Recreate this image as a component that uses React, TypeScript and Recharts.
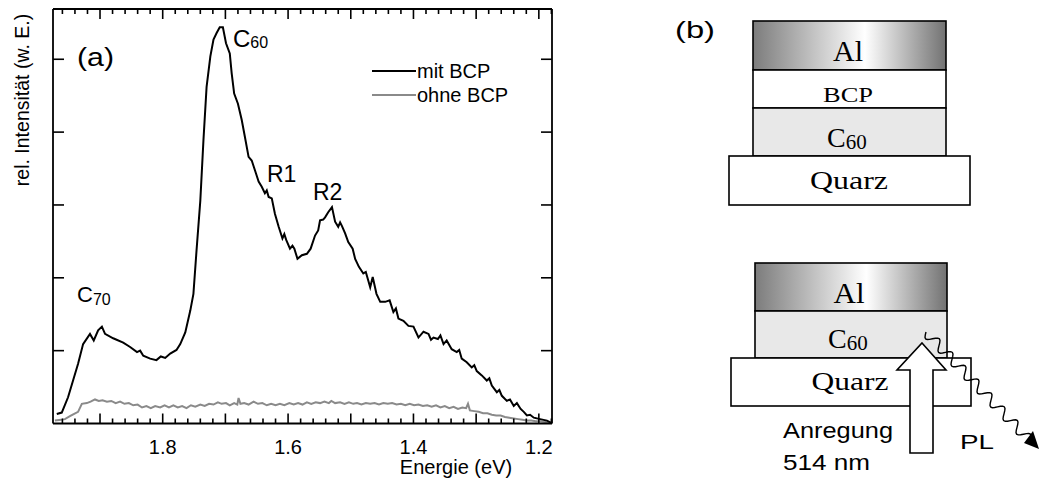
import { Line, LineChart, XAxis, YAxis } from "recharts"

// PL-Spektren, Energie in eV (x-Achse fallend)
const mitE = [
  1.969, 1.961, 1.951, 1.943, 1.935, 1.927, 1.916, 1.91, 1.903, 1.897, 1.892, 1.879, 1.863, 1.852, 1.841, 1.836,
  1.831, 1.82, 1.81, 1.803, 1.796, 1.788, 1.778, 1.772, 1.764, 1.756, 1.751, 1.746, 1.74, 1.735, 1.73, 1.724,
  1.719, 1.714, 1.709, 1.704, 1.699, 1.693, 1.69, 1.686, 1.68, 1.674, 1.669, 1.663, 1.658, 1.653, 1.647, 1.642,
  1.637, 1.634, 1.631, 1.626, 1.621, 1.615, 1.609, 1.606, 1.603, 1.597, 1.593, 1.59, 1.585, 1.578, 1.57, 1.564,
  1.557, 1.552, 1.549, 1.544, 1.541, 1.536, 1.53, 1.525, 1.52, 1.517, 1.514, 1.509, 1.504, 1.497, 1.493, 1.487,
  1.48, 1.476, 1.472, 1.469, 1.465, 1.459, 1.453, 1.445, 1.438, 1.432, 1.428, 1.424, 1.416, 1.408, 1.4, 1.392,
  1.384, 1.376, 1.372, 1.368, 1.361, 1.357, 1.352, 1.347, 1.339, 1.331, 1.327, 1.323, 1.315, 1.307, 1.303, 1.299,
  1.291, 1.283, 1.279, 1.275, 1.267, 1.263, 1.259, 1.251, 1.246, 1.24, 1.235, 1.229, 1.224, 1.219, 1.214, 1.208,
  1.198, 1.187, 1.18,
]
const mitI = [
  0.13, 0.15, 0.36, 0.59, 0.82, 1.09, 1.23, 1.14, 1.28, 1.33, 1.23, 1.17, 1.11, 1.05, 0.98, 1.0,
  0.93, 0.89, 0.87, 0.92, 0.9, 0.96, 1.01, 1.09, 1.25, 1.55, 1.78, 2.38, 3.06, 3.89, 4.62, 5.04,
  5.27, 5.36, 5.44, 5.44, 5.22, 5.08, 4.81, 4.53, 4.39, 4.17, 3.94, 3.66, 3.61, 3.48, 3.32, 3.25,
  3.16, 3.2, 3.11, 3.09, 2.88, 2.7, 2.54, 2.6, 2.52, 2.4, 2.44, 2.4, 2.26, 2.31, 2.33, 2.4,
  2.58, 2.65, 2.79, 2.8, 2.83, 2.9, 2.97, 2.77, 2.7, 2.76, 2.71, 2.61, 2.49, 2.4, 2.26, 2.15,
  2.06, 2.08, 1.96, 1.87, 2.01, 1.78, 1.67, 1.67, 1.69, 1.53, 1.58, 1.44, 1.41, 1.34, 1.33, 1.18,
  1.26, 1.23, 1.15, 1.18, 1.16, 1.21, 1.09, 1.14, 1.02, 0.98, 1.01, 0.89, 0.84, 0.77, 0.8, 0.72,
  0.66, 0.59, 0.62, 0.52, 0.43, 0.46, 0.38, 0.31, 0.33, 0.24, 0.28, 0.2, 0.16, 0.11, 0.12, 0.08,
  0.06, 0.04, 0.01,
]
const ohneE = [
  1.972, 1.962, 1.956, 1.948, 1.942, 1.935, 1.929, 1.921, 1.915, 1.908, 1.902, 1.896, 1.889, 1.882, 1.875, 1.868,
  1.861, 1.854, 1.847, 1.84, 1.833, 1.826, 1.819, 1.812, 1.804, 1.797, 1.79, 1.783, 1.776, 1.769, 1.762, 1.755,
  1.748, 1.74, 1.733, 1.726, 1.719, 1.712, 1.706, 1.699, 1.693, 1.686, 1.681, 1.679, 1.676, 1.67, 1.663, 1.655,
  1.648, 1.641, 1.634, 1.627, 1.62, 1.613, 1.606, 1.598, 1.591, 1.584, 1.577, 1.57, 1.563, 1.556, 1.549, 1.542,
  1.535, 1.531, 1.525, 1.517, 1.51, 1.503, 1.496, 1.49, 1.483, 1.476, 1.469, 1.462, 1.455, 1.448, 1.441, 1.434,
  1.427, 1.42, 1.413, 1.406, 1.399, 1.392, 1.385, 1.378, 1.371, 1.364, 1.357, 1.35, 1.343, 1.336, 1.329, 1.322,
  1.316, 1.313, 1.31, 1.303, 1.296, 1.289, 1.282, 1.275, 1.268, 1.261, 1.254, 1.247, 1.24, 1.233, 1.226, 1.219,
  1.212, 1.205, 1.198, 1.19, 1.182,
]
const ohneI = [
  0.04, 0.05, 0.06, 0.1, 0.13, 0.16, 0.27, 0.28, 0.3, 0.33, 0.31, 0.32, 0.3, 0.31, 0.28, 0.3,
  0.27, 0.28, 0.25, 0.26, 0.22, 0.24, 0.21, 0.24, 0.22, 0.25, 0.22, 0.25, 0.22, 0.24, 0.21, 0.25,
  0.23, 0.26, 0.24, 0.27, 0.26, 0.29, 0.27, 0.28, 0.25, 0.28, 0.26, 0.35, 0.27, 0.28, 0.26, 0.3,
  0.27, 0.28, 0.25, 0.27, 0.25, 0.27, 0.25, 0.28, 0.26, 0.28, 0.26, 0.29, 0.27, 0.29, 0.28, 0.3,
  0.28, 0.31, 0.28, 0.29, 0.27, 0.29, 0.27, 0.28, 0.26, 0.28, 0.27, 0.28, 0.26, 0.28, 0.27, 0.28,
  0.26, 0.27, 0.25, 0.27, 0.25, 0.26, 0.24, 0.25, 0.23, 0.25, 0.22, 0.24, 0.21, 0.23, 0.2, 0.22,
  0.21, 0.27, 0.18, 0.17, 0.16, 0.14, 0.14, 0.12, 0.11, 0.11, 0.09, 0.08, 0.07, 0.06, 0.05, 0.04,
  0.04, 0.03, 0.03, 0.02, 0.01,
]

const xDomain = [1.179, 1.975]
const yDomain = [0, 5.69]
const xTicks = Array.from({ length: 40 }, (_, i) => +(1.18 + i * 0.02).toFixed(2))
const yTicks = [1, 2, 3, 4, 5]

const mit = mitE.map((e, i) => ({ e, v: mitI[i] }))
const ohne = ohneE.map((e, i) => ({ e, v: ohneI[i] }))

const SANS = "'Liberation Sans', Arial, Helvetica, sans-serif"
const SERIF = "'Liberation Serif', 'Times New Roman', serif"
const AX = 1.8

function BottomTick(p: any) {
  const c = Math.round(p.payload.value * 100)
  const len = c % 10 === 0 ? 10 : 5
  return (
    <g>
      <line x1={p.x} y1={p.y} x2={p.x} y2={p.y - len} stroke="#000" strokeWidth={1.6} />
      {c % 20 === 0 && (
        <text x={p.x} y={p.y + 30} textAnchor="middle" fontSize={20} fontFamily={SANS} fill="#000">
          {(c / 100).toFixed(1)}
        </text>
      )}
    </g>
  )
}

function TopTick(p: any) {
  const c = Math.round(p.payload.value * 100)
  const len = c % 10 === 0 ? 10 : 5
  return <line x1={p.x} y1={p.y} x2={p.x} y2={p.y + len} stroke="#000" strokeWidth={1.6} />
}

function LeftTick(p: any) {
  return <line x1={p.x} y1={p.y} x2={p.x + 11} y2={p.y} stroke="#000" strokeWidth={1.6} />
}

function RightTick(p: any) {
  return <line x1={p.x} y1={p.y} x2={p.x - 11} y2={p.y} stroke="#000" strokeWidth={1.6} />
}

// Wellenlinie fuer PL-Emission
function wave(x0: number, y0: number, x1: number, y1: number, n: number, amp: number) {
  const dx = x1 - x0
  const dy = y1 - y0
  const L = Math.hypot(dx, dy)
  const ux = dx / L
  const uy = dy / L
  let d = `M${x0},${y0}`
  const steps = n * 12
  for (let i = 1; i <= steps; i++) {
    const t = i / steps
    const s = Math.sin(t * n * 2 * Math.PI) * amp
    d += ` L${(x0 + dx * t - uy * s).toFixed(1)},${(y0 + dy * t + ux * s).toFixed(1)}`
  }
  return d
}

function Diagram() {
  const sw = 1.6
  return (
    <svg width={1040} height={486} style={{ position: "absolute", left: 0, top: 0, pointerEvents: "none" }}>
      <defs>
        <linearGradient id="al" x1="0" y1="0" x2="1" y2="0">
          <stop offset="0%" stopColor="#7c7c7c" />
          <stop offset="58%" stopColor="#ffffff" />
          <stop offset="100%" stopColor="#727272" />
        </linearGradient>
      </defs>

      {/* Achsentitel und Annotationen (a) */}
      <text transform="rotate(-90)" x={-100} y={29} textAnchor="middle" fontSize={19.5} fontFamily={SANS}>
        rel. Intensität (w. E.)
      </text>
      <text x={456} y={474} textAnchor="middle" fontSize={20} fontFamily={SANS}>
        Energie (eV)
      </text>
      <text x={77} y={66} fontSize={26} fontFamily={SANS} textLength={37} lengthAdjust="spacingAndGlyphs">
        (a)
      </text>
      <text x={233} y={47} fontSize={24} fontFamily={SANS}>
        C<tspan fontSize={16} dy={1}>60</tspan>
      </text>
      <text x={267} y={182} fontSize={23} fontFamily={SANS}>
        R1
      </text>
      <text x={313} y={200} fontSize={23} fontFamily={SANS}>
        R2
      </text>
      <text x={77} y={302} fontSize={22} fontFamily={SANS}>
        C<tspan fontSize={16} dy={3}>70</tspan>
      </text>
      <line x1={372} y1={71} x2={416} y2={71} stroke="#000" strokeWidth={2} />
      <line x1={372} y1={95} x2={416} y2={95} stroke="#8a8a8a" strokeWidth={2} />
      <text x={417} y={78} fontSize={20} fontFamily={SANS}>
        mit BCP
      </text>
      <text x={417} y={102} fontSize={20} fontFamily={SANS}>
        ohne BCP
      </text>

      {/* (b) Schichtaufbau */}
      <text x={675} y={38} fontSize={24} fontFamily={SANS} textLength={40} lengthAdjust="spacingAndGlyphs">
        (b)
      </text>
      <rect x={753} y={21} width={193} height={49} fill="url(#al)" stroke="#000" strokeWidth={sw} />
      <rect x={753} y={70} width={193} height={38} fill="#fff" stroke="#000" strokeWidth={sw} />
      <rect x={753} y={108} width={193} height={48} fill="#e8e8e8" stroke="#000" strokeWidth={sw} />
      <rect x={729} y={156} width={241} height={49} fill="#fff" stroke="#000" strokeWidth={sw} />
      <text x={848} y={61} textAnchor="middle" fontSize={30} fontFamily={SERIF} textLength={30} lengthAdjust="spacingAndGlyphs">
        Al
      </text>
      <text x={848} y={102} textAnchor="middle" fontSize={22} fontFamily={SERIF} textLength={50} lengthAdjust="spacingAndGlyphs">
        BCP
      </text>
      <text x={827} y={147} fontSize={28} fontFamily={SERIF}>
        C<tspan fontSize={21} dy={2}>60</tspan>
      </text>
      <text x={849} y={189} textAnchor="middle" fontSize={26} fontFamily={SERIF} textLength={78} lengthAdjust="spacingAndGlyphs">
        Quarz
      </text>

      <rect x={755} y={263} width={192} height={48} fill="url(#al)" stroke="#000" strokeWidth={sw} />
      <rect x={755} y={311} width={192} height={47} fill="#e8e8e8" stroke="#000" strokeWidth={sw} />
      <rect x={731} y={358} width={240} height={48} fill="#fff" stroke="#000" strokeWidth={sw} />
      <text x={849} y={303} textAnchor="middle" fontSize={30} fontFamily={SERIF} textLength={31} lengthAdjust="spacingAndGlyphs">
        Al
      </text>
      <text x={828} y={348} fontSize={28} fontFamily={SERIF}>
        C<tspan fontSize={21} dy={2}>60</tspan>
      </text>
      <text x={850} y={390} textAnchor="middle" fontSize={26} fontFamily={SERIF} textLength={77} lengthAdjust="spacingAndGlyphs">
        Quarz
      </text>

      <polygon
        points="922,343 946,370 933,370 933,453 910,453 910,370 897,370"
        fill="#fff"
        stroke="#000"
        strokeWidth={sw}
      />
      <path d={wave(926, 332, 1030, 441, 8, 5)} fill="none" stroke="#000" strokeWidth={1.4} />
      <polygon points="1024,443 1033,431 1039,449" fill="#000" />

      <text x={783} y={438} fontSize={22} fontFamily={SANS} textLength={110} lengthAdjust="spacingAndGlyphs">
        Anregung
      </text>
      <text x={783} y={470} fontSize={22} fontFamily={SANS} textLength={87} lengthAdjust="spacingAndGlyphs">
        514 nm
      </text>
      <text x={960} y={449} fontSize={21} fontFamily={SANS} textLength={34} lengthAdjust="spacingAndGlyphs">
        PL
      </text>
    </svg>
  )
}

export default function App() {
  return (
    <div style={{ position: "absolute", left: 0, top: 0, width: 1040, height: 486, background: "#fff" }}>
      <LineChart width={1040} height={486} margin={{ top: 8, right: 487, bottom: 61.5, left: 52 }}>
        <XAxis
          type="number"
          dataKey="e"
          domain={xDomain}
          reversed
          allowDataOverflow
          ticks={xTicks}
          interval={0}
          height={1}
          tickSize={0}
          tickMargin={0}
          tickLine={false}
          tick={BottomTick}
          axisLine={{ stroke: "#000", strokeWidth: AX }}
        />
        <XAxis
          xAxisId="top"
          orientation="top"
          type="number"
          dataKey="e"
          domain={xDomain}
          reversed
          allowDataOverflow
          ticks={xTicks}
          interval={0}
          height={1}
          tickSize={0}
          tickMargin={0}
          tickLine={false}
          tick={TopTick}
          axisLine={{ stroke: "#000", strokeWidth: AX }}
        />
        <YAxis
          type="number"
          domain={yDomain}
          allowDataOverflow
          ticks={yTicks}
          interval={0}
          width={1}
          tickSize={0}
          tickMargin={0}
          tickLine={false}
          tick={LeftTick}
          axisLine={{ stroke: "#000", strokeWidth: AX }}
        />
        <YAxis
          yAxisId="right"
          orientation="right"
          type="number"
          domain={yDomain}
          allowDataOverflow
          ticks={yTicks}
          interval={0}
          width={1}
          tickSize={0}
          tickMargin={0}
          tickLine={false}
          tick={RightTick}
          axisLine={{ stroke: "#000", strokeWidth: AX }}
        />
        <Line data={ohne} dataKey="v" type="linear" stroke="#8a8a8a" strokeWidth={2} dot={false} isAnimationActive={false} />
        <Line data={mit} dataKey="v" type="linear" stroke="#000" strokeWidth={2} dot={false} isAnimationActive={false} />
      </LineChart>
      <Diagram />
    </div>
  )
}
